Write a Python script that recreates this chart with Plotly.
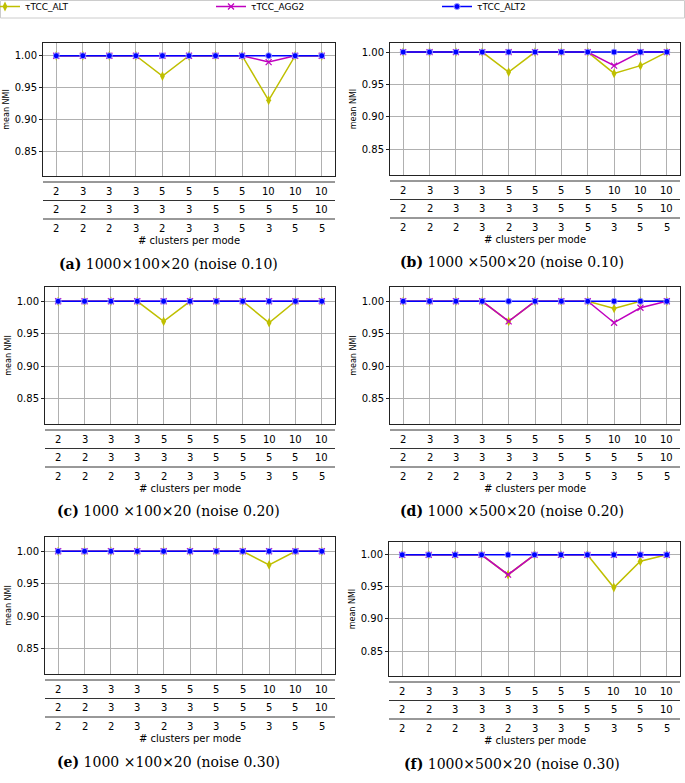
import plotly.graph_objects as go

W, H = 685, 783

# ---- data ----
MODE1 = [2, 3, 3, 3, 5, 5, 5, 5, 10, 10, 10]
MODE2 = [2, 2, 3, 3, 3, 3, 5, 5, 5, 5, 10]
MODE3 = [2, 2, 2, 3, 2, 3, 3, 5, 3, 5, 5]
X = list(range(len(MODE1)))

ALT_A = [1.00, 1.00, 1.00, 1.00, 0.968, 1.00, 1.00, 1.00, 0.930, 1.00, 1.00]
AGG2_A = [1.00, 1.00, 1.00, 1.00, 1.00, 1.00, 1.00, 1.00, 0.990, 1.00, 1.00]
ALT2_A = [1.00, 1.00, 1.00, 1.00, 1.00, 1.00, 1.00, 1.00, 1.00, 1.00, 1.00]

ALT_B = [1.00, 1.00, 1.00, 1.00, 0.969, 1.00, 1.00, 1.00, 0.967, 0.979, 1.00]
AGG2_B = [1.00, 1.00, 1.00, 1.00, 1.00, 1.00, 1.00, 1.00, 0.979, 1.00, 1.00]
ALT2_B = [1.00, 1.00, 1.00, 1.00, 1.00, 1.00, 1.00, 1.00, 1.00, 1.00, 1.00]

ALT_C = [1.00, 1.00, 1.00, 1.00, 0.969, 1.00, 1.00, 1.00, 0.967, 1.00, 1.00]
AGG2_C = [1.00, 1.00, 1.00, 1.00, 1.00, 1.00, 1.00, 1.00, 1.00, 1.00, 1.00]
ALT2_C = [1.00, 1.00, 1.00, 1.00, 1.00, 1.00, 1.00, 1.00, 1.00, 1.00, 1.00]

ALT_D = [1.00, 1.00, 1.00, 1.00, 0.969, 1.00, 1.00, 1.00, 0.989, 1.00, 1.00]
AGG2_D = [1.00, 1.00, 1.00, 1.00, 0.969, 1.00, 1.00, 1.00, 0.967, 0.990, 1.00]
ALT2_D = [1.00, 1.00, 1.00, 1.00, 1.00, 1.00, 1.00, 1.00, 1.00, 1.00, 1.00]

ALT_E = [1.00, 1.00, 1.00, 1.00, 1.00, 1.00, 1.00, 1.00, 0.979, 1.00, 1.00]
AGG2_E = [1.00, 1.00, 1.00, 1.00, 1.00, 1.00, 1.00, 1.00, 1.00, 1.00, 1.00]
ALT2_E = [1.00, 1.00, 1.00, 1.00, 1.00, 1.00, 1.00, 1.00, 1.00, 1.00, 1.00]

ALT_F = [1.00, 1.00, 1.00, 1.00, 0.969, 1.00, 1.00, 1.00, 0.949, 0.990, 1.00]
AGG2_F = [1.00, 1.00, 1.00, 1.00, 0.969, 1.00, 1.00, 1.00, 1.00, 1.00, 1.00]
ALT2_F = [1.00, 1.00, 1.00, 1.00, 1.00, 1.00, 1.00, 1.00, 1.00, 1.00, 1.00]

SERIES_NAMES = ["τTCC_ALT", "τTCC_AGG2", "τTCC_ALT2"]
Y_TICKS = [0.85, 0.90, 0.95, 1.00]
X_LABEL = "# clusters per mode"
Y_LABEL = "mean NMI"

CAPTIONS = [
    "<b>(a)</b> 1000×100×20 (noise 0.10)",
    "<b>(b)</b> 1000 ×500×20 (noise 0.10)",
    "<b>(c)</b> 1000 ×100×20 (noise 0.20)",
    "<b>(d)</b> 1000 ×500×20 (noise 0.20)",
    "<b>(e)</b> 1000 ×100×20 (noise 0.30)",
    "<b>(f)</b> 1000×500×20 (noise 0.30)",
]

PANELS = [
    (ALT_A, AGG2_A, ALT2_A),
    (ALT_B, AGG2_B, ALT2_B),
    (ALT_C, AGG2_C, ALT2_C),
    (ALT_D, AGG2_D, ALT2_D),
    (ALT_E, AGG2_E, ALT2_E),
    (ALT_F, AGG2_F, ALT2_F),
]

# ---- layout geometry (pixels) ----
# (x0, x1, ytop, ybottom, yrange, caption center x)
GEOM = [
    (43, 335, 43, 176, [0.811, 1.020], 168),
    (390, 680, 43, 175, [0.810, 1.014], 512),
    (45, 335, 287, 424, [0.811, 1.022], 168),
    (390, 680, 287, 424, [0.811, 1.022], 512),
    (45, 335, 537, 674, [0.811, 1.022], 168),
    (389, 680, 542, 676, [0.811, 1.020], 512),
]
LINE_OFF = [6, 24.5, 43]
TEXT_OFF = [15.5, 33.5, 52]
LABEL_OFF = 64.5
CAPTION_OFF = 87.5
LEGEND_BOX_H = 18

COLORS = ["#bfbf00", "#bf00bf", "#0000ff"]
MARKERS = [
    dict(symbol="diamond-tall", size=7, color="#bfbf00"),
    dict(symbol="x-thin-open", size=6, color="#bf00bf", line=dict(width=1.2, color="#bf00bf")),
    dict(symbol="circle", size=6, color="#0000ff", line=dict(width=1, color="#9a9aff")),
]


def px(x):
    return x / W


def py(y):
    return 1 - y / H


fig = go.Figure()
annotations = []
shapes = []
FONT = "DejaVu Sans"

for k, (series, geom) in enumerate(zip(PANELS, GEOM)):
    n = k + 1
    xa = "x" if n == 1 else f"x{n}"
    ya = "y" if n == 1 else f"y{n}"
    x0, x1, yt, yb, yr, cap_x = geom
    for s, (vals, name) in enumerate(zip(series, SERIES_NAMES)):
        fig.add_trace(go.Scatter(
            x=X, y=vals, mode="lines+markers", name=name,
            line=dict(color=COLORS[s], width=1.5),
            marker=MARKERS[s],
            xaxis=xa, yaxis=ya, showlegend=(k == 0),
        ))
    xkey = "xaxis" if n == 1 else f"xaxis{n}"
    ykey = "yaxis" if n == 1 else f"yaxis{n}"
    fig.update_layout(**{
        xkey: dict(
            domain=[px(x0), px(x1)], anchor=ya, range=[-0.5, len(X) - 0.5],
            tickvals=X, showticklabels=False, ticks="",
            showgrid=True, gridcolor="#b0b0b0", gridwidth=1,
            showline=True, mirror=True, linecolor="#222222", linewidth=1,
            zeroline=False,
        ),
        ykey: dict(
            domain=[py(yb), py(yt)], anchor=xa, range=yr,
            tickvals=Y_TICKS, tickformat=".2f",
            tickfont=dict(size=10, family=FONT, color="black"),
            ticks="outside", ticklen=3, tickcolor="#222222",
            showgrid=True, gridcolor="#b0b0b0", gridwidth=1,
            showline=True, mirror=True, linecolor="#222222", linewidth=1,
            zeroline=False,
            title=dict(text=Y_LABEL, font=dict(size=8, family=FONT, color="black"), standoff=3),
        ),
    })
    # table rows below the axis
    for r, row in enumerate([MODE1, MODE2, MODE3]):
        shapes.append(dict(
            type="line", xref=f"{xa} domain", yref="paper",
            x0=0, x1=1, y0=py(yb + LINE_OFF[r]), y1=py(yb + LINE_OFF[r]),
            line=dict(color="#333333", width=1),
        ))
        for i, v in zip(X, row):
            annotations.append(dict(
                x=i, y=py(yb + TEXT_OFF[r]), xref=xa, yref="paper",
                text=str(v), showarrow=False, xanchor="center", yanchor="middle",
                font=dict(size=10, family=FONT, color="black"),
            ))
    annotations.append(dict(
        x=0.5, y=py(yb + LABEL_OFF), xref=f"{xa} domain", yref="paper",
        text=X_LABEL, showarrow=False, xanchor="center", yanchor="middle",
        font=dict(size=10, family=FONT, color="black"),
    ))
    annotations.append(dict(
        x=px(cap_x), y=py(yb + CAPTION_OFF), xref="paper", yref="paper",
        text=CAPTIONS[k], showarrow=False, xanchor="center", yanchor="middle",
        font=dict(size=14, family="DejaVu Serif", color="black"),
    ))

# legend frame
shapes.append(dict(
    type="rect", xref="paper", yref="paper",
    x0=px(0.5), x1=px(W - 0.5), y0=py(LEGEND_BOX_H), y1=py(0.5),
    line=dict(color="#cccccc", width=1), fillcolor="rgba(0,0,0,0)",
))

fig.update_layout(
    width=W, height=H,
    margin=dict(l=0, r=0, t=0, b=0, autoexpand=False),
    paper_bgcolor="white", plot_bgcolor="white",
    font=dict(family=FONT, color="black"),
    annotations=annotations, shapes=shapes,
    legend=dict(
        orientation="h", x=-15 / W, y=1 + 8 / H, xanchor="left", yanchor="top",
        borderwidth=0, bgcolor="rgba(0,0,0,0)",
        font=dict(size=9, family=FONT, color="black"),
        entrywidth=181, entrywidthmode="pixels", itemwidth=30,
        traceorder="normal",
    ),
)

fig.write_html("out.html", config={"displayModeBar": False},
               post_script="document.body.style.margin='0';")
